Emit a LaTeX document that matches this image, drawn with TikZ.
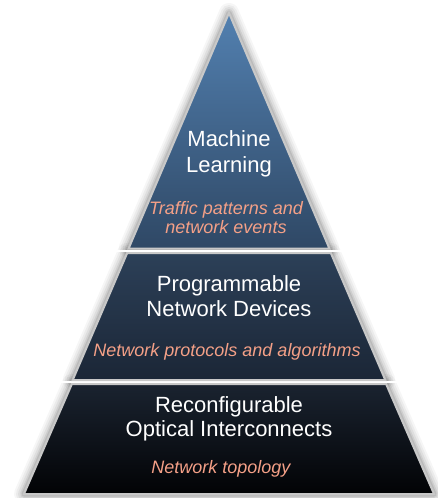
\documentclass[tikz,border=0pt]{standalone}
\usepackage{fontspec}
\setmainfont{Liberation Sans}
\definecolor{tAtop}{HTML}{5280B0}
\definecolor{tAbot}{HTML}{2F4865}
\definecolor{tBtop}{HTML}{2C4058}
\definecolor{tBbot}{HTML}{1B2636}
\definecolor{tCtop}{HTML}{1A2330}
\definecolor{tCbot}{HTML}{020305}
\definecolor{edgegrey}{HTML}{C8C8C8}
\definecolor{salmon}{RGB}{244,160,135}
\tikzset{
  titletext/.style={anchor=base, inner sep=0pt, text=white, font=\fontsize{22}{24}\selectfont},
  subtext/.style={anchor=base, inner sep=0pt, text=salmon, font=\fontsize{18}{20}\selectfont\itshape},
  tierborder/.style={draw=edgegrey, line width=2pt, line join=miter},
}
\begin{document}
\begin{tikzpicture}[x=1pt,y=-1pt]
\useasboundingbox (0,0) rectangle (438,498);
% corners
\coordinate (a1) at (229,13);
\coordinate (a2) at (329.4,248.5);
\coordinate (a3) at (128.6,248.5);
\coordinate (b1) at (330.8,253);
\coordinate (b2) at (385.3,380);
\coordinate (b3) at (72.7,380);
\coordinate (b4) at (127.2,253);
\coordinate (c1) at (386.1,384);
\coordinate (c2) at (434,494);
\coordinate (c3) at (24,494);
\coordinate (c4) at (71.9,384);
% soft shadows
\foreach \w/\o in {20/0.035,16/0.045,12/0.055,8/0.07,5/0.09}{
  \draw[black, draw opacity=\o, line width=\w pt, line join=round, xshift=-1pt, yshift=-1pt]
    (a1) -- (a2) -- (a3) -- cycle;
  \draw[black, draw opacity=\o, line width=\w pt, line join=round, xshift=-1pt, yshift=-1pt]
    (b1) -- (b2) -- (b3) -- (b4) -- cycle;
  \draw[black, draw opacity=\o, line width=\w pt, line join=round, xshift=-1pt, yshift=-1pt]
    (c1) -- (c2) -- (c3) -- (c4) -- cycle;
}
% white gaps between tiers
\fill[white] (110,249.5) rectangle (348,252);
\fill[white] (58,381) rectangle (400,383);
% tiers
\shadedraw[tierborder, top color=tAtop, bottom color=tAbot] (a1) -- (a2) -- (a3) -- cycle;
\shadedraw[tierborder, top color=tBtop, bottom color=tBbot] (b1) -- (b2) -- (b3) -- (b4) -- cycle;
\shadedraw[tierborder, top color=tCtop, bottom color=tCbot] (c1) -- (c2) -- (c3) -- (c4) -- cycle;
% texts
\node[titletext] (t1a) at (229,146.5) {Machine};
\node[titletext] (t1b) at (229,172) {Learning};
\node[subtext] (s1a) at (226,214) {Traffic patterns and};
\node[subtext] (s1b) at (226,233) {network events};
\node[titletext] (t2a) at (229,291.5) {Programmable};
\node[titletext] (t2b) at (229,316) {Network Devices};
\node[subtext] (s2) at (227,356) {Network protocols and algorithms};
\node[titletext] (t3a) at (229,412.5) {Reconfigurable};
\node[titletext] (t3b) at (229,436.5) {Optical Interconnects};
\node[subtext] (s3) at (221,473) {Network topology};
\end{tikzpicture}
\end{document}
